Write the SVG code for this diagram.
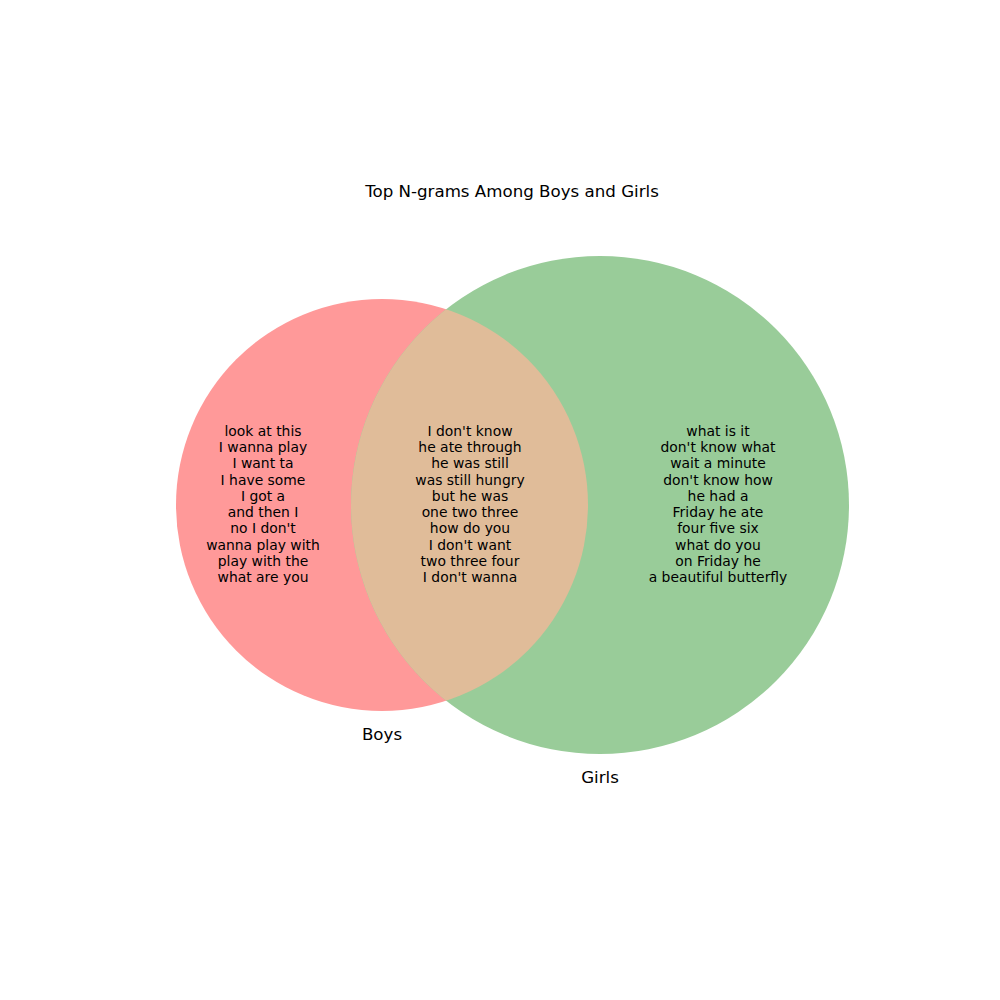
<svg xmlns="http://www.w3.org/2000/svg" width="1000" height="1000" viewBox="0 0 1000 1000">
<style>
text{font-family:"DejaVu Sans","Liberation Sans",sans-serif;fill:#000}
.lbl{font-size:13.9px;text-anchor:middle}
.big{font-size:16.67px;text-anchor:middle}
</style>
<defs>
<clipPath id="clipBoys"><circle cx="382" cy="505" r="206"/></clipPath>
</defs>
<rect width="1000" height="1000" fill="#fff"/>
<text class="big" x="512" y="197">Top N-grams Among Boys and Girls</text>
<g id="boys">
<circle cx="382" cy="505" r="206" fill="#ff9999"/>
</g>
<g id="girls">
<circle cx="600" cy="505" r="249" fill="#99cc99"/>
</g>
<g id="overlap">
<circle cx="600" cy="505" r="249" fill="#e0bc99" clip-path="url(#clipBoys)"/>
</g>
<g id="connectors"></g>
<g id="boys-text">
<text class="lbl" x="263" y="436">look at this</text>
<text class="lbl" x="263" y="452.2">I wanna play</text>
<text class="lbl" x="263" y="468.4">I want ta</text>
<text class="lbl" x="263" y="484.7">I have some</text>
<text class="lbl" x="263" y="500.9">I got a</text>
<text class="lbl" x="263" y="517.1">and then I</text>
<text class="lbl" x="263" y="533.3">no I don't</text>
<text class="lbl" x="263" y="549.6">wanna play with</text>
<text class="lbl" x="263" y="565.8">play with the</text>
<text class="lbl" x="263" y="582">what are you</text>
</g>
<g id="overlap-text">
<text class="lbl" x="470" y="436">I don't know</text>
<text class="lbl" x="470" y="452.2">he ate through</text>
<text class="lbl" x="470" y="468.4">he was still</text>
<text class="lbl" x="470" y="484.7">was still hungry</text>
<text class="lbl" x="470" y="500.9">but he was</text>
<text class="lbl" x="470" y="517.1">one two three</text>
<text class="lbl" x="470" y="533.3">how do you</text>
<text class="lbl" x="470" y="549.6">I don't want</text>
<text class="lbl" x="470" y="565.8">two three four</text>
<text class="lbl" x="470" y="582">I don't wanna</text>
</g>
<g id="girls-text">
<text class="lbl" x="718" y="436">what is it</text>
<text class="lbl" x="718" y="452.2">don't know what</text>
<text class="lbl" x="718" y="468.4">wait a minute</text>
<text class="lbl" x="718" y="484.7">don't know how</text>
<text class="lbl" x="718" y="500.9">he had a</text>
<text class="lbl" x="718" y="517.1">Friday he ate</text>
<text class="lbl" x="718" y="533.3">four five six</text>
<text class="lbl" x="718" y="549.6">what do you</text>
<text class="lbl" x="718" y="565.8">on Friday he</text>
<text class="lbl" x="718" y="582">a beautiful butterfly</text>
</g>
<g id="set-labels">
<text class="big" x="382" y="740">Boys</text>
<text class="big" x="600" y="783">Girls</text>
</g>
</svg>
